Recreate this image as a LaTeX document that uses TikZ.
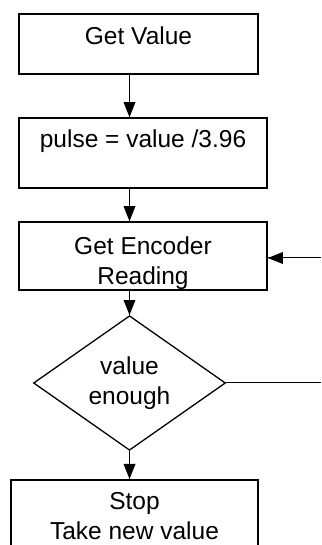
\documentclass[tikz,border=0pt]{standalone}
\usepackage{fontspec}
\setmainfont{Liberation Sans}
\usetikzlibrary{shapes.geometric}

\begin{document}
\begin{tikzpicture}[x=1pt,y=1pt]
\tikzstyle{every node}+=[inner sep=0pt, font=\fontsize{24.5}{30}\selectfont]
\tikzstyle{box}=[draw=black, line width=1.6pt, rectangle]
\tikzstyle{link}=[black, line width=1pt]
\useasboundingbox (0,0) rectangle (321,545);
\clip (0,0) rectangle (321,545);
\node [box, minimum width=239pt, text height=31pt, text depth=29pt, anchor=base] (getval) at (138.5,500) {Get Value};
\node [box, minimum width=248pt, text height=30pt, text depth=40pt, anchor=base] (pulse) at (143,397) {pulse = value /3.96};
\node [box, minimum width=248pt, text height=63pt, text depth=5pt, align=center, anchor=base] (encoder) at (143,260) {Get Encoder\\Reading};
\node [draw=black, line width=1.3pt, diamond, minimum width=192pt, minimum height=131pt, align=center] (check) at (129.5,162) {value\\enough};
\node [box, minimum width=247pt, inner ysep=13pt, align=center, anchor=north] (stop) at (134.5,66) {Stop\\Take new value};
\coordinate (loopout) at (321,162);
\coordinate (loopin) at (321,287);
\draw [link] (getval.south -| check.north) -- (pulse.north -| check.north);
\fill [black] (pulse.north -| check.north) -- ++(-6,15) -- ++(12,0) -- cycle;
\draw [link] (pulse.south -| check.north) -- (encoder.north -| check.north);
\fill [black] (encoder.north -| check.north) -- ++(-6,15) -- ++(12,0) -- cycle;
\draw [link] (encoder.south -| check.north) -- (check.north);
\fill [black] (check.north) -- ++(-6,15) -- ++(12,0) -- cycle;
\draw [link] (check.south) -- (stop.north -| check.south);
\fill [black] (stop.north -| check.south) -- ++(-6,15) -- ++(12,0) -- cycle;
\draw [link] (check.east) -- (loopout);
\draw [link] (loopin) -- (loopin -| encoder.east);
\fill [black] (loopin -| encoder.east) -- ++(15,6) -- ++(0,-12) -- cycle;
\end{tikzpicture}
\end{document}
